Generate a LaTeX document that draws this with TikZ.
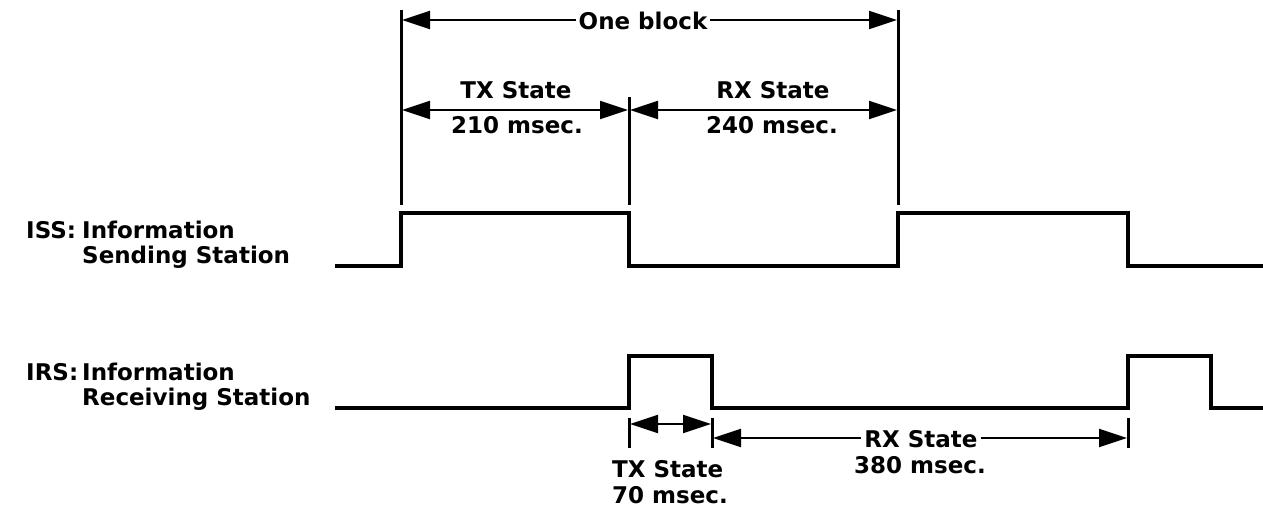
\documentclass[tikz,border=0pt]{standalone}
\usepackage{fontspec}
\setmainfont{DejaVu Sans}
\usetikzlibrary{arrows.meta}
\begin{document}
\begin{tikzpicture}[x=1pt,y=-1pt,
  lbl/.style={font=\bfseries\fontsize{23}{27}\selectfont, inner sep=0pt, text=black, anchor=base},
  onlbl/.style={lbl, fill=white, inner xsep=3pt, inner ysep=2pt},
  wave/.style={line width=3.5pt, line join=miter},
  marker/.style={line width=3pt},
  dim/.style={line width=2pt, {Triangle[length=28pt,width=18pt]}-{Triangle[length=28pt,width=18pt]}}
]
\useasboundingbox (0,0) rectangle (1263,507);

% markers
\coordinate (m1t) at (401,10);  \coordinate (m1b) at (401,205);
\coordinate (m2t) at (629,97);  \coordinate (m2b) at (629,205);
\coordinate (m3t) at (898,10);  \coordinate (m3b) at (898,205);
\draw[marker] (m1t) -- (m1b);
\draw[marker] (m2t) -- (m2b);
\draw[marker] (m3t) -- (m3b);

% One block
\coordinate (ob1) at (402,20); \coordinate (ob2) at (897,20);
\draw[dim] (ob1) -- (ob2);
\node[onlbl] (oneblock) at (643,29) {One block};

% TX / RX state top
\coordinate (tx1) at (402,110); \coordinate (tx2) at (628,110);
\coordinate (rx1) at (630,110); \coordinate (rx2) at (897,110);
\draw[dim] (tx1) -- (tx2);
\draw[dim] (rx1) -- (rx2);
\node[lbl] (txs) at (516,98) {TX State};
\node[lbl] (txt) at (517,133) {210 msec.};
\node[lbl] (rxs) at (773,98) {RX State};
\node[lbl] (rxt) at (772,133) {240 msec.};

% ISS waveform
\draw[wave] (335,266) -- (401,266) -- (401,213) -- (629,213) -- (629,266)
  -- (898,266) -- (898,213) -- (1128,213) -- (1128,266) -- (1263,266);
% IRS waveform
\draw[wave] (335,408) -- (629,408) -- (629,356) -- (712,356) -- (712,408)
  -- (1128,408) -- (1128,356) -- (1211,356) -- (1211,408) -- (1263,408);

% left labels
\node[lbl, anchor=base west] (iss) at (26,238) {ISS:};
\node[lbl, anchor=base west] (issa) at (82,238) {Information};
\node[lbl, anchor=base west] (issb) at (82,263) {Sending Station};
\node[lbl, anchor=base west] (irs) at (26,380) {IRS:};
\node[lbl, anchor=base west] (irsa) at (82,380) {Information};
\node[lbl, anchor=base west] (irsb) at (82,405) {Receiving Station};

% bottom ticks
\coordinate (b1t) at (629,418); \coordinate (b1b) at (629,448);
\coordinate (b2t) at (712,418); \coordinate (b2b) at (712,448);
\coordinate (b3t) at (1128,418); \coordinate (b3b) at (1128,448);
\draw[marker] (b1t) -- (b1b);
\draw[marker] (b2t) -- (b2b);
\draw[marker] (b3t) -- (b3b);

\coordinate (bt1) at (630,424); \coordinate (bt2) at (711,424);
\draw[dim] (bt1) -- (bt2);
\coordinate (br1) at (713,438); \coordinate (br2) at (1127,438);
\draw[dim] (br1) -- (br2);
\node[onlbl] (brxs) at (921,447) {RX State};
\node[lbl] (brxt) at (920,473) {380 msec.};
\node[lbl, anchor=base west] (btxs) at (612,477) {TX State};
\node[lbl, anchor=base west] (btxt) at (612,503) {70 msec.};
\end{tikzpicture}
\end{document}
